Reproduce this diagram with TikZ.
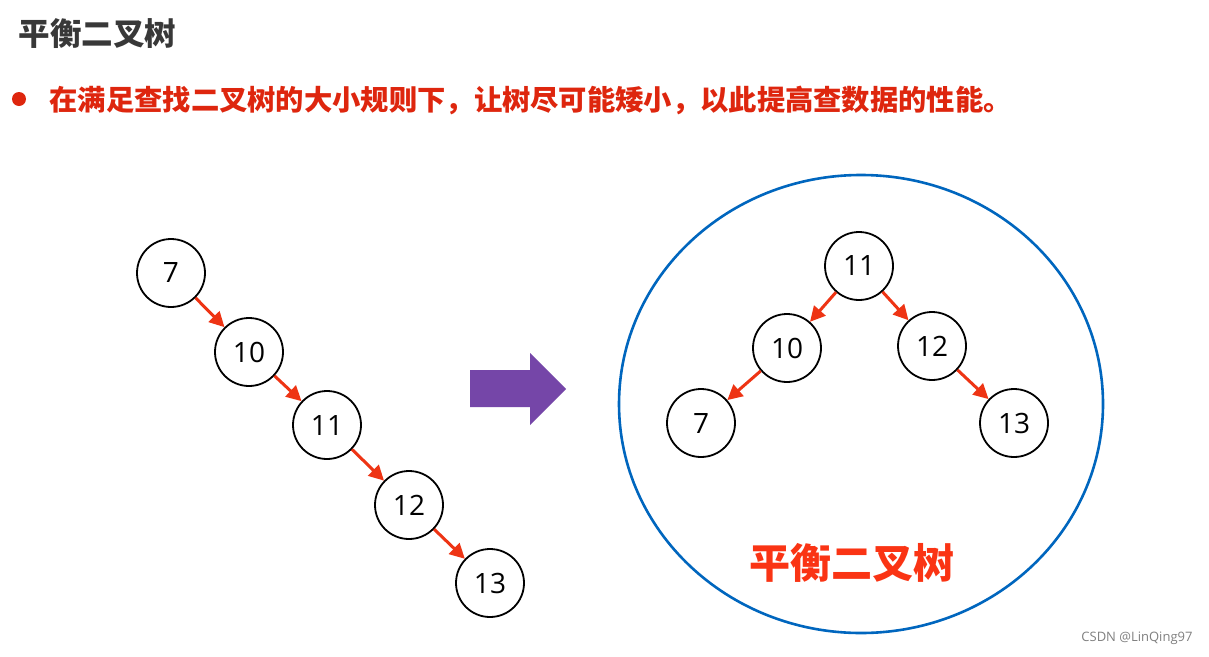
\documentclass[tikz,border=0pt]{standalone}
\usepackage{fontspec}
\newfontfamily\cjk{Noto Sans CJK SC}
\newfontfamily\numfont{Open Sans}
\usetikzlibrary{arrows.meta}
\definecolor{arrowred}{RGB}{238,52,20}
\definecolor{textred}{RGB}{222,38,14}
\definecolor{labelred}{RGB}{250,52,20}
\definecolor{ringblue}{RGB}{0,102,190}
\definecolor{bigarrow}{RGB}{117,70,168}
\tikzset{
  tree node/.style={circle,draw,line width=1.8pt,minimum size=68pt,inner sep=0pt,font=\numfont\fontsize{28}{32}\selectfont},
  tree edge/.style={-{Triangle[length=15pt,width=15pt]},arrowred,line width=3pt},
}

\begin{document}
\begin{tikzpicture}[x=1pt,y=-1pt]
  \useasboundingbox[fill=white] (0,0) rectangle (1209,656);
  % heading
  \node[anchor=west,text=black!78,font=\cjk\bfseries\fontsize{31.5}{36}\selectfont] (title) at (15,34) {平衡二叉树};
  \node[circle,fill=textred,minimum size=14pt,inner sep=0pt] (dot) at (19,99) {};
  \node[anchor=west,text=textred,font=\cjk\bfseries\fontsize{28.3}{33}\selectfont] (rule) at (46,100)
    {在满足查找二叉树的大小规则下，让树尽可能矮小，以此提高查数据的性能。};
  % left: degenerate tree
  \node[tree node] (a7) at (171,273) {7};
  \node[tree node] (a10) at (249,352) {10};
  \node[tree node] (a11) at (327,425) {11};
  \node[tree node] (a12) at (409,505) {12};
  \node[tree node] (a13) at (490,583) {13};
  \draw[tree edge] (a7) -- (a10);
  \draw[tree edge] (a10) -- (a11);
  \draw[tree edge] (a11) -- (a12);
  \draw[tree edge] (a12) -- (a13);
  % transform arrow
  \fill[bigarrow] (470,370) -- (530,370) -- (530,353) -- (566,389)
    -- (530,425) -- (530,407) -- (470,407) -- cycle;
  % right: balanced tree
  \draw[ringblue,line width=2.6pt] (861,404) ellipse [x radius=242,y radius=229];
  \node[tree node] (b11) at (859,266) {11};
  \node[tree node] (b10) at (787,348) {10};
  \node[tree node] (b12) at (932,346) {12};
  \node[tree node] (b7) at (701,423) {7};
  \node[tree node] (b13) at (1014,423) {13};
  \draw[tree edge] (b11) -- (b10);
  \draw[tree edge] (b11) -- (b12);
  \draw[tree edge] (b10) -- (b7);
  \draw[tree edge] (b12) -- (b13);
  \node[text=labelred,font=\cjk\bfseries\fontsize{41}{46}\selectfont] (name) at (852,563) {平衡二叉树};
  % watermark
  \node[anchor=east,text=black!50,font=\numfont\fontsize{13}{15}\selectfont] (mark) at (1196,638) {CSDN @LinQing97};
\end{tikzpicture}
\end{document}
